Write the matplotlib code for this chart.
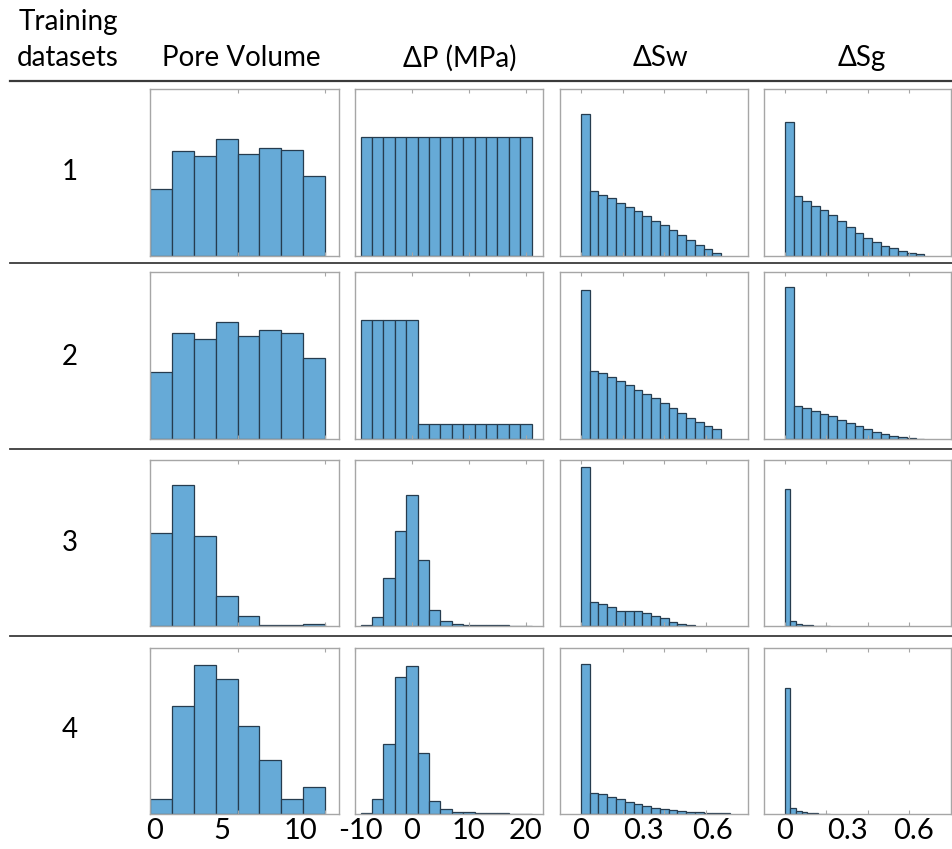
import numpy as np
import matplotlib
matplotlib.use("Agg")
import matplotlib.pyplot as plt
from matplotlib.lines import Line2D

plt.rcParams['font.family'] = ['Lato', 'DejaVu Sans']

W, H = 953, 849

# column headers and row labels
columns = ["Pore Volume", "\u0394P (MPa)", "\u0394Sw", "\u0394Sg"]
rows = ["1", "2", "3", "4"]

# bin edges (start, width) per column; the last column changes width in rows 3-4
pv_start, pv_width = 0.0, 1.5
dp_start, dp_width = -9.0, 2.0
sw_start, sw_width = 0.0, 0.042
sg_width_wide, sg_width_narrow = 0.042, 0.027

# bar heights (percent of panel height)
pv_1 = [40, 63, 60, 70, 61.2, 64.6, 63.2, 48]
pv_2 = [40, 63.5, 60, 70, 61.5, 65, 63.5, 48.3]
pv_3 = [56, 85, 54.4, 18.2, 5.8, 0.8, 0.8, 1.4]
pv_4 = [9, 65, 90, 81.2, 53, 32.8, 9, 16.4]

dp_1 = [71] * 15
dp_2 = [71.5] * 5 + [9.2] * 10
dp_3 = [0.6, 5.6, 28.8, 57, 79.2, 39.6, 9.8, 2.8, 1, 0.8, 0.4, 0.4, 0.4, 0.2, 0.2]
dp_4 = [0.6, 9, 42.4, 82.4, 89.4, 36.8, 8, 3, 1.2, 1, 0.4, 0.4, 0.4, 0.2, 0.2]

sw_1 = [85, 39, 36.6, 34.8, 32, 29.6, 26.8, 24.2, 21.2, 18.4, 15.4, 12.4, 9.4, 6.8, 4, 2]
sw_2 = [89, 41, 39.4, 37, 34.8, 32.2, 29.6, 27, 24.4, 21.6, 18.8, 15.8, 12.8, 10.2, 7.8, 5.8]
sw_3 = [96, 14.6, 13.2, 11.2, 9.2, 9.2, 8.8, 7.6, 6.2, 4.8, 2.6, 1.2, 0.4]
sw_4 = [90.4, 12.8, 11.8, 10.2, 8.8, 7.2, 5.8, 4.6, 3.6, 2.8, 2.2, 1.6, 1.2, 1, 0.8, 0.6, 0.4]

sg_1 = [80, 36, 33, 30.2, 27.6, 24.4, 21, 17.6, 14, 11, 8.4, 6.2, 4.6, 3.2, 2, 1]
sg_2 = [91, 19.8, 18.4, 16.8, 15.2, 13.6, 11.6, 9.6, 7.6, 5.8, 4.4, 3, 1.8, 1, 0.4, 0.2]
sg_3 = [82.6, 2.8, 1.2, 0.6, 0.4, 0.2, 0.2, 0.2]
sg_4 = [75.8, 3.6, 1.8, 1, 0.6, 0.4, 0.2, 0.2]

# axis settings per column
xlims = [(0, 12.95), (-10, 23), (-0.1, 0.8), (-0.1, 0.8)]
matlab_ticks = [[0, 6, 12], [-10, 0, 10, 20], [0, 0.2, 0.4, 0.6], [0, 0.2, 0.4, 0.6]]
label_ticks = [[0.3, 4.9, 10.3], [-9, 0, 10, 20], [0, 0.3, 0.63], [0, 0.3, 0.62]]
label_text = [["0", "5", "10"], ["-10", "0", "10", "20"], ["0", "0.3", "0.6"], ["0", "0.3", "0.6"]]

panels = [
    [(pv_1, pv_start, pv_width), (dp_1, dp_start, dp_width), (sw_1, sw_start, sw_width), (sg_1, 0.0, sg_width_wide)],
    [(pv_2, pv_start, pv_width), (dp_2, dp_start, dp_width), (sw_2, sw_start, sw_width), (sg_2, 0.0, sg_width_wide)],
    [(pv_3, pv_start, pv_width), (dp_3, dp_start, dp_width), (sw_3, sw_start, sw_width), (sg_3, 0.0, sg_width_narrow)],
    [(pv_4, pv_start, pv_width), (dp_4, dp_start, dp_width), (sw_4, sw_start, sw_width), (sg_4, 0.0, sg_width_narrow)],
]

bar_color = "#66aad7"
edge_color = "#263c4f"
frame_color = "#a6a6a6"

col_left = [150, 355, 560, 764]
col_w = [189, 188, 188, 187]
row_top = [89, 272, 460, 648]
row_h = [167, 167, 166, 166]

fig = plt.figure(figsize=(W / 100, H / 100), dpi=100)

for r in range(4):
    for c in range(4):
        heights, start, width = panels[r][c]
        ax = fig.add_axes([col_left[c] / W, 1 - (row_top[r] + row_h[r]) / H,
                           col_w[c] / W, row_h[r] / H])
        lefts = start + width * np.arange(len(heights))
        ax.bar(lefts, heights, width=width, align='edge', color=bar_color,
               edgecolor=edge_color, linewidth=0.9)
        ax.set_xlim(*xlims[c])
        ax.set_ylim(0, 100)
        ax.set_yticks([])
        for s in ax.spines.values():
            s.set_color(frame_color)
            s.set_linewidth(1.0)
        ax.set_xticks(matlab_ticks[c], minor=True)
        ax.tick_params(axis='x', which='minor', direction='in', length=3,
                       top=True, bottom=True, color=frame_color, width=0.8)
        if r == 3:
            ax.set_xticks(label_ticks[c])
            ax.set_xticklabels(label_text[c])
            ax.tick_params(axis='x', which='major', length=0, pad=3,
                           labelsize=21, colors='black')
        else:
            ax.set_xticks([])

# header
fig.text(68 / W, 1 - 22 / H, "Training", ha='center', va='center', fontsize=20)
fig.text(68 / W, 1 - 58 / H, "datasets", ha='center', va='center', fontsize=20)
header_x = [241, 460, 660, 862]
for name, x in zip(columns, header_x):
    fig.text(x / W, 1 - 58 / H, name, ha='center', va='center', fontsize=20)

# row numbers
row_y = [172, 357, 543, 730]
for lab, y in zip(rows, row_y):
    fig.text(70 / W, 1 - y / H, lab, ha='center', va='center', fontsize=20)

# separator lines
for y, lw in zip([81, 263, 449, 636], [1.6, 1.3, 1.3, 1.3]):
    fig.add_artist(Line2D([10 / W, 1.0], [1 - y / H, 1 - y / H],
                          color='#3a3a3a', linewidth=lw))

fig.savefig("out.png", dpi=100)
